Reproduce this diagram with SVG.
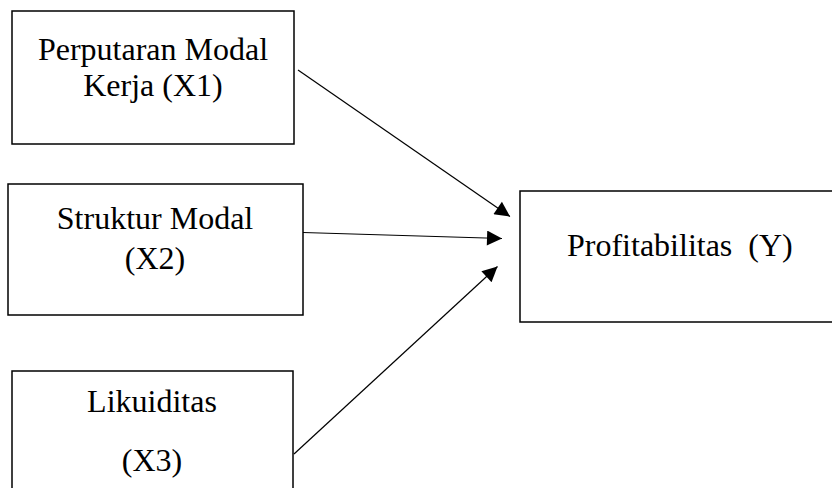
<svg xmlns="http://www.w3.org/2000/svg" width="832" height="488" viewBox="0 0 832 488">
<style>
.box{fill:#fff;stroke:#000;stroke-width:1.5}
.t{font-family:"Liberation Serif","Times New Roman",serif;font-size:32px;fill:#000}
.c{text-anchor:middle}
.ln{stroke:#000;stroke-width:1.2;fill:none}
</style>
<defs>
<marker id="ah" viewBox="0 0 10 10" refX="10" refY="5" markerWidth="17" markerHeight="15" markerUnits="userSpaceOnUse" orient="auto">
<path d="M0,0 L10,5 L0,10 z" fill="#000"/>
</marker>
</defs>
<rect width="832" height="488" fill="#fff"/>
<g id="x1">
<rect class="box" x="12" y="11" width="282" height="133"/>
<text class="t c" x="153" y="60">Perputaran Modal</text>
<text class="t c" x="153" y="96">Kerja (X1)</text>
</g>
<g id="x2">
<rect class="box" x="8" y="184" width="295" height="131"/>
<text class="t c" x="155" y="229">Struktur Modal</text>
<text class="t c" x="155" y="269">(X2)</text>
</g>
<g id="x3">
<rect class="box" x="12" y="371" width="281" height="130"/>
<text class="t c" x="152" y="412">Likuiditas</text>
<text class="t c" x="152" y="471">(X3)</text>
</g>
<g id="y">
<rect class="box" x="520" y="191" width="330" height="131"/>
<text class="t" x="567" y="256" xml:space="preserve" style="white-space:pre">Profitabilitas  (Y)</text>
</g>
<g id="connectors">
<line class="ln" x1="298" y1="70" x2="510" y2="216.5" marker-end="url(#ah)"/>
<line class="ln" x1="303" y1="232.5" x2="502" y2="238.5" marker-end="url(#ah)"/>
<line class="ln" x1="294" y1="454" x2="497.5" y2="266.5" marker-end="url(#ah)"/>
</g>
</svg>
